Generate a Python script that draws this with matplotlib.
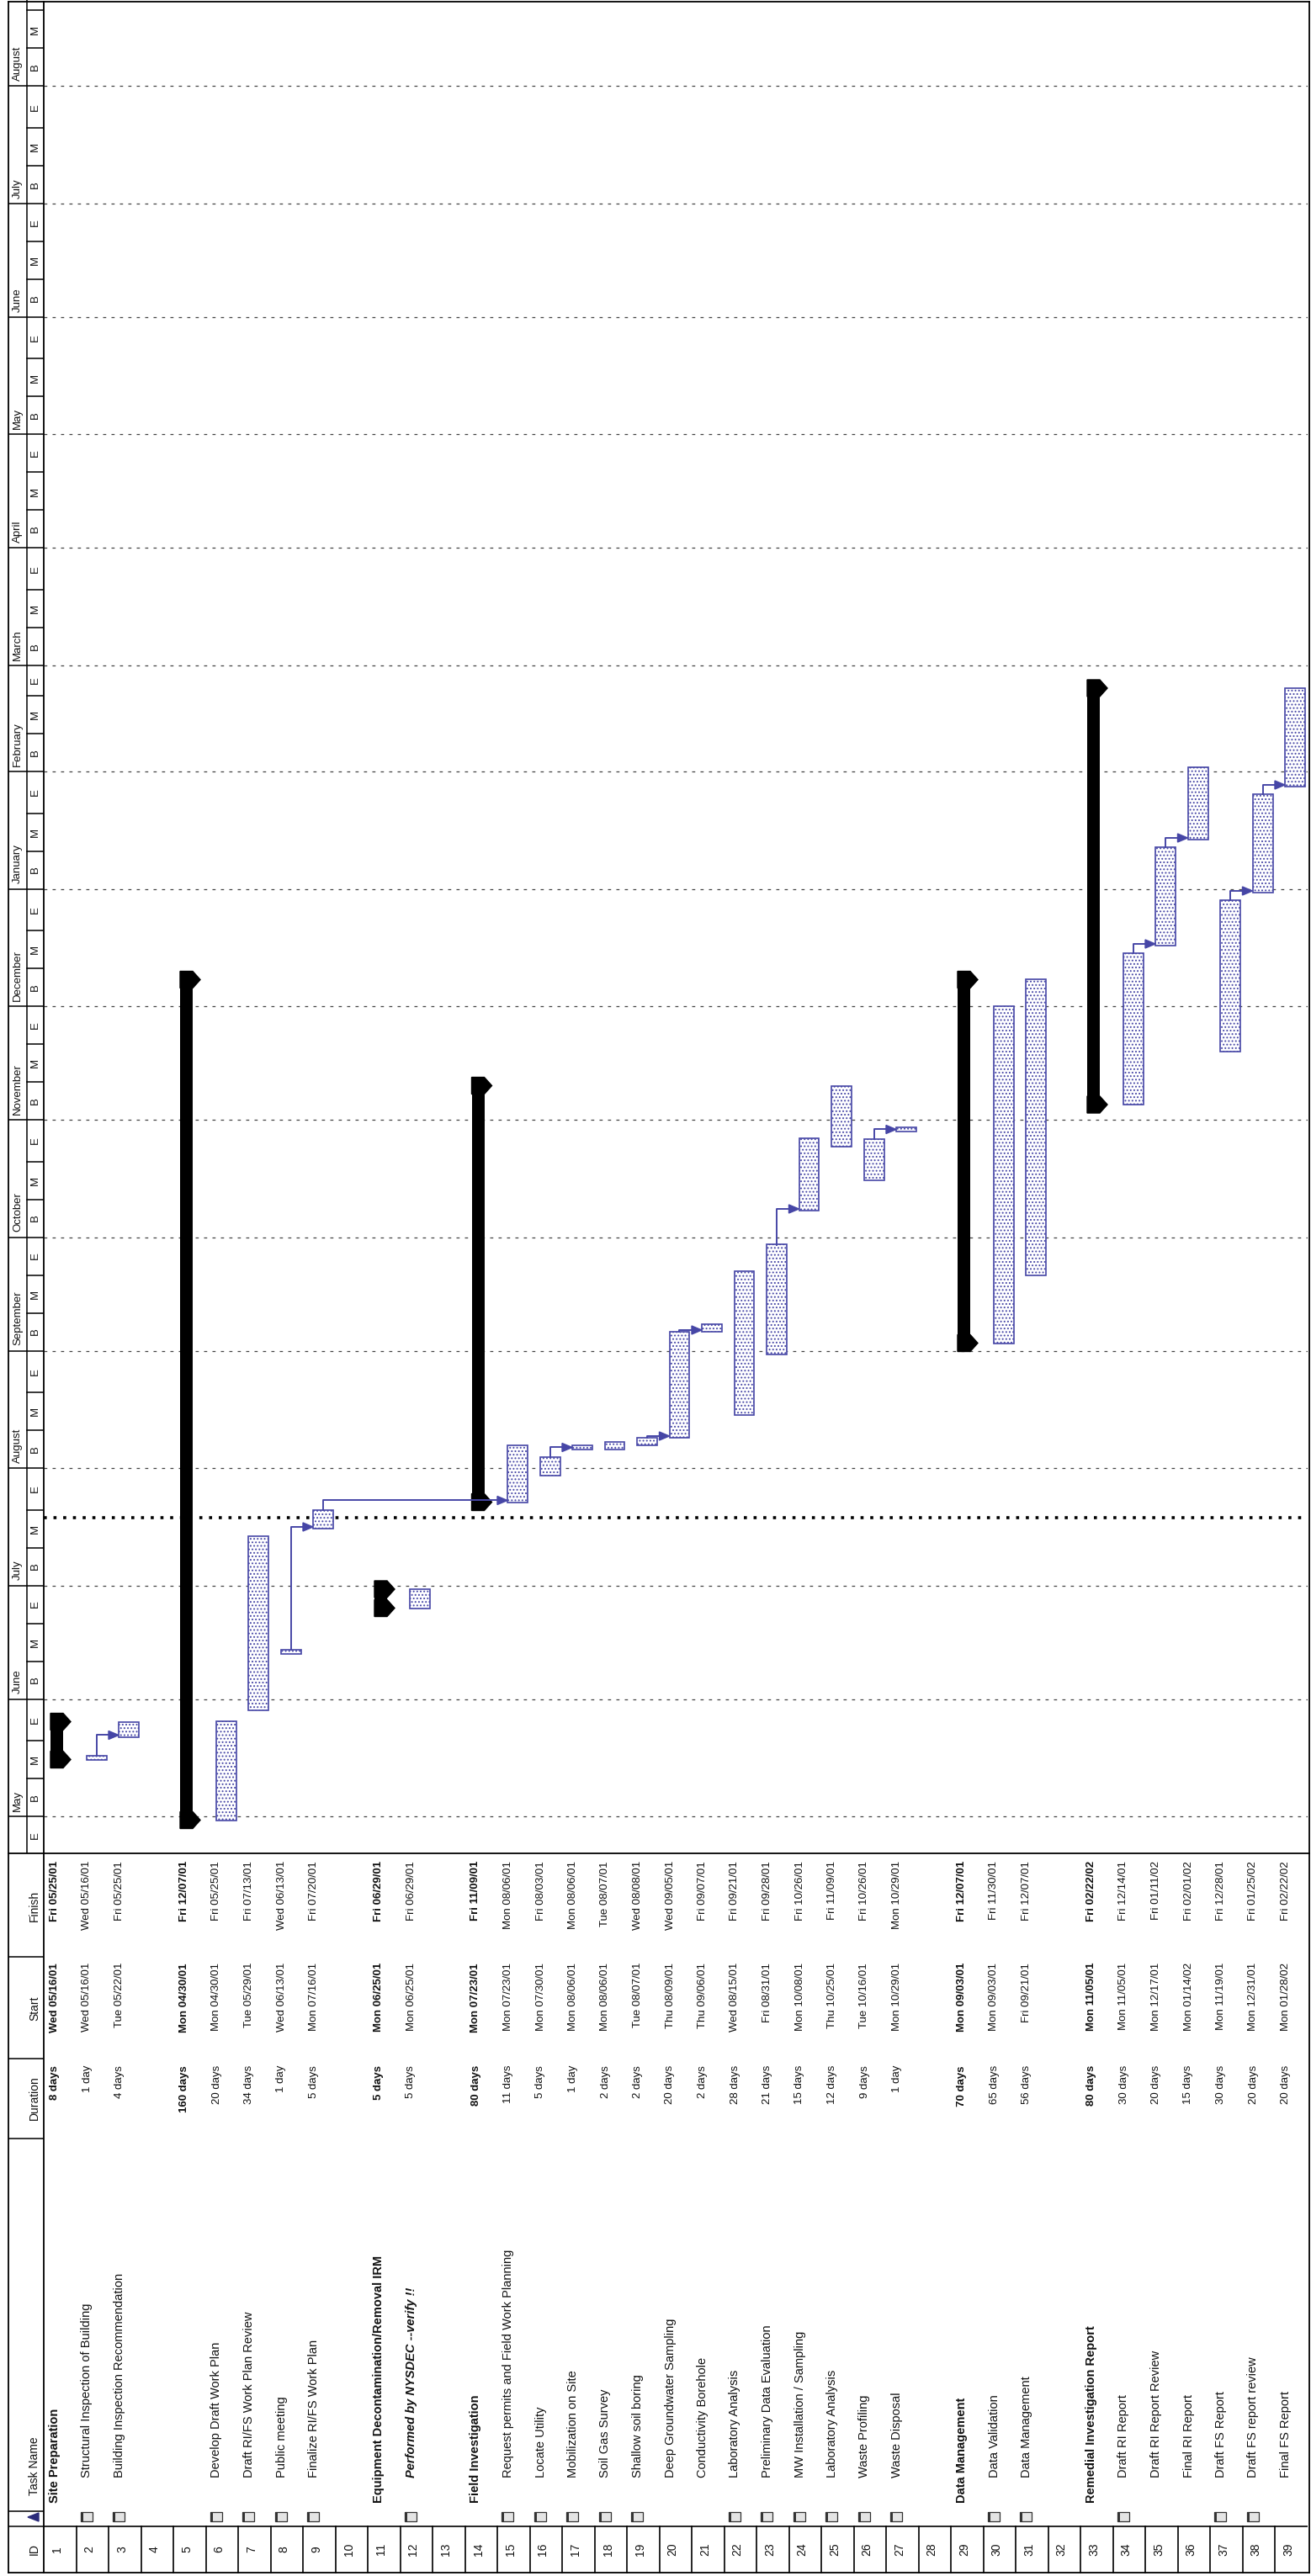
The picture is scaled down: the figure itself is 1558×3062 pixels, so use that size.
import datetime as dt
import matplotlib.pyplot as plt
import matplotlib.dates as mdates
from matplotlib.patches import Polygon, Rectangle

plt.rcParams['font.family'] = ['Liberation Sans', 'DejaVu Sans']
plt.rcParams['hatch.linewidth'] = 0.9

# ---------------- schedule data ----------------
ids = list(range(1, 40))
names = ["Site Preparation", "Structural Inspection of Building", "Building Inspection Recommendation",
         "", "", "Develop Draft Work Plan", "Draft RI/FS Work Plan Review", "Public meeting",
         "Finalize RI/FS Work Plan", "", "Equipment Decontamination/Removal IRM",
         "Performed by NYSDEC --verify !!", "", "Field Investigation",
         "Request permits and Field Work Planning", "Locate Utility", "Mobilization on Site",
         "Soil Gas Survey", "Shallow soil boring", "Deep Groundwater Sampling", "Conductivity Borehole",
         "Laboratory Analysis", "Preliminary Data Evaluation", "MW Installation / Sampling",
         "Laboratory Analysis", "Waste Profiling", "Waste Disposal", "", "Data Management",
         "Data Validation", "Data Management", "", "Remedial Investigation Report", "Draft RI Report",
         "Draft RI Report Review", "Final RI Report", "Draft FS Report", "Draft FS report review",
         "Final FS Report"]
durations = ["8 days", "1 day", "4 days", "", "160 days", "20 days", "34 days", "1 day", "5 days", "",
             "5 days", "5 days", "", "80 days", "11 days", "5 days", "1 day", "2 days", "2 days",
             "20 days", "2 days", "28 days", "21 days", "15 days", "12 days", "9 days", "1 day", "",
             "70 days", "65 days", "56 days", "", "80 days", "30 days", "20 days", "15 days", "30 days",
             "20 days", "20 days"]
starts = ["Wed 05/16/01", "Wed 05/16/01", "Tue 05/22/01", "", "Mon 04/30/01", "Mon 04/30/01",
          "Tue 05/29/01", "Wed 06/13/01", "Mon 07/16/01", "", "Mon 06/25/01", "Mon 06/25/01", "",
          "Mon 07/23/01", "Mon 07/23/01", "Mon 07/30/01", "Mon 08/06/01", "Mon 08/06/01",
          "Tue 08/07/01", "Thu 08/09/01", "Thu 09/06/01", "Wed 08/15/01", "Fri 08/31/01",
          "Mon 10/08/01", "Thu 10/25/01", "Tue 10/16/01", "Mon 10/29/01", "", "Mon 09/03/01",
          "Mon 09/03/01", "Fri 09/21/01", "", "Mon 11/05/01", "Mon 11/05/01", "Mon 12/17/01",
          "Mon 01/14/02", "Mon 11/19/01", "Mon 12/31/01", "Mon 01/28/02"]
finishes = ["Fri 05/25/01", "Wed 05/16/01", "Fri 05/25/01", "", "Fri 12/07/01", "Fri 05/25/01",
            "Fri 07/13/01", "Wed 06/13/01", "Fri 07/20/01", "", "Fri 06/29/01", "Fri 06/29/01", "",
            "Fri 11/09/01", "Mon 08/06/01", "Fri 08/03/01", "Mon 08/06/01", "Tue 08/07/01",
            "Wed 08/08/01", "Wed 09/05/01", "Fri 09/07/01", "Fri 09/21/01", "Fri 09/28/01",
            "Fri 10/26/01", "Fri 11/09/01", "Fri 10/26/01", "Mon 10/29/01", "", "Fri 12/07/01",
            "Fri 11/30/01", "Fri 12/07/01", "", "Fri 02/22/02", "Fri 12/14/01", "Fri 01/11/02",
            "Fri 02/01/02", "Fri 12/28/01", "Fri 01/25/02", "Fri 02/22/02"]
summary_rows = [1, 5, 11, 14, 29, 33]
italic_rows = [12]
note_rows = [2, 3, 6, 7, 8, 9, 12, 15, 16, 17, 18, 19, 22, 23, 24, 25, 26, 27, 30, 31, 34, 37, 38]
links = [(2, 3), (8, 9), (9, 15), (16, 17), (19, 20), (20, 21), (23, 24), (26, 27),
         (34, 35), (35, 36), (37, 38), (38, 39)]
status_date = "Thu 07/19/01"
month_names = ["January", "February", "March", "April", "May", "June", "July", "August",
               "September", "October", "November", "December"]
thirds = ["B", "M", "E"]

# ---------------- layout ----------------
W, H = 1558, 3062
ROW = 38.5          # px per task row
X0 = 52             # first row begins here
CHART_BOT = 2203    # timeline / table boundary
MAY1_PX = 2159      # where 1 May 2001 sits
PX_PER_DAY = 4.5
BLUE = '#4646a6'
INK = '#111111'

fig = plt.figure(figsize=(W / 100, H / 100), dpi=100)


def axes_px(x0, y0, x1, y1):
    a = fig.add_axes([x0 / W, 1 - y1 / H, (x1 - x0) / W, (y1 - y0) / H])
    a.axis('off')
    return a


def parse(s):
    return mdates.date2num(dt.datetime.strptime(s.split()[1], '%m/%d/%y'))


def p2d(px):
    return px / PX_PER_DAY


n = len(ids)
x_end = X0 + n * ROW
base = mdates.date2num(dt.datetime(2001, 5, 1))
y_lo = base - (CHART_BOT - MAY1_PX) / PX_PER_DAY
y_hi = base + MAY1_PX / PX_PER_DAY

# ---------------- gantt ----------------
ax = axes_px(X0, 0, x_end, CHART_BOT)
ax.set_xlim(0, n)
ax.set_ylim(y_lo, y_hi)

month_starts = [dt.datetime(2001 + (m - 1) // 12, (m - 1) % 12 + 1, 1) for m in range(4, 22)]
for ms in month_starts:
    ax.axhline(mdates.date2num(ms), color='#444444', lw=0.9, ls=(0, (3, 5)), zorder=1)
ax.axhline(parse(status_date), color='black', lw=2.6, ls=(0, (1, 2.2)), zorder=2)

for i, s, f in zip(ids, starts, finishes):
    if not s:
        continue
    y0, y1 = parse(s), parse(f) + 1
    r = i - 1
    if i in summary_rows:
        ax.bar(r + 8 / ROW, y1 - y0, bottom=y0, width=15 / ROW, align='edge',
               color='black', zorder=4)
        h = p2d(10)
        for yy in (y0, y1):
            ax.add_patch(Polygon([(r + 8 / ROW, yy - h), (r + 23 / ROW, yy - h), (r + 32 / ROW, yy),
                                  (r + 23 / ROW, yy + h), (r + 8 / ROW, yy + h)],
                                 closed=True, color='black', zorder=4))
    else:
        ax.bar(r + 12 / ROW, y1 - y0, bottom=y0, width=24 / ROW, align='edge',
               facecolor='white', edgecolor=BLUE, hatch='....', lw=1.2, zorder=3)

for a, b in links:
    ya = parse(finishes[a - 1]) + 1
    yb = parse(starts[b - 1]) + p2d(2)
    xa = a - 1 + 24 / ROW
    xb = b - 1 + 12 / ROW
    ax.plot([xa, xa, xb - 8 / ROW], [ya, yb, yb], color=BLUE, lw=1.4, zorder=5)
    ax.add_patch(Polygon([(xb, yb), (xb - 12 / ROW, yb - p2d(5)), (xb - 12 / ROW, yb + p2d(5))],
                         closed=True, color=BLUE, zorder=5))

# ---------------- timescale header ----------------
axh = axes_px(10, 0, X0, CHART_BOT)
axh.set_xlim(10, X0)
axh.set_ylim(y_lo, y_hi)
for k, ms in enumerate(month_starts[:-1]):
    y = mdates.date2num(ms)
    y_next = mdates.date2num(month_starts[k + 1])
    if y_lo < y < y_hi:
        axh.plot([10, X0], [y, y], color='black', lw=1.1)
    if y_lo < y and y + p2d(60) < y_hi:
        axh.text(21, y + p2d(6), month_names[ms.month - 1], rotation=90, rotation_mode='anchor',
                 ha='left', va='center', fontsize=9.5, color=INK, clip_on=True)
    edges = [y, y + 10, y + 20, y_next]
    for j, lab in enumerate(thirds):
        if j > 0 and y_lo < edges[j] < y_hi:
            axh.plot([32, X0], [edges[j], edges[j]], color='black', lw=1.1)
        yc = (edges[j] + edges[j + 1]) / 2
        if y_lo + p2d(8) < yc < y_hi - p2d(8):
            axh.text(42, yc, lab, rotation=90, rotation_mode='anchor',
                     ha='center', va='center', fontsize=9.5, color=INK, clip_on=True)
axh.plot([32, 32], [y_lo, y_hi], color='black', lw=1.1)

# ---------------- table ----------------
axt = axes_px(X0, CHART_BOT, x_end, H)
axt.set_xlim(0, n)
axt.set_ylim(H, CHART_BOT)
for i in ids:
    r = i - 1
    xc = r + 13 / ROW
    w = 'bold' if i in summary_rows else 'normal'
    nm = names[r]
    if nm:
        top_level = i in summary_rows
        axt.text(xc, 2975 if top_level else 2945, nm, rotation=90, rotation_mode='anchor',
                 ha='left', va='center', fontsize=10.5, color=INK,
                 weight='bold' if (top_level or i in italic_rows) else 'normal',
                 style='italic' if i in italic_rows else 'normal')
    for y, txt in ((2455, durations[r]), (2333, starts[r]), (2212, finishes[r])):
        if txt:
            axt.text(xc, y, txt, rotation=90, rotation_mode='anchor', ha='right', va='center',
                     fontsize=9.5, color=INK, weight=w)
    axt.text(r + 16 / ROW, 3030, str(i), rotation=90, rotation_mode='anchor', ha='center',
             va='center', fontsize=10, color=INK)
    if i in note_rows:
        axt.add_patch(Rectangle((r + 5 / ROW, 2986), 14 / ROW, 11, facecolor='#e4e4e4',
                                edgecolor='#333333', lw=0.9))
        axt.add_patch(Rectangle((r + 5 / ROW, 2986), 3 / ROW, 11, facecolor='#333333', lw=0))
    if i > 1:
        axt.plot([r, r], [3003, 3058], color='black', lw=1.2)
axt.plot([0, n], [3003, 3003], color='black', lw=1.2)

# table column headers
axth = axes_px(10, CHART_BOT, X0, H)
axth.set_xlim(10, X0)
axth.set_ylim(H, CHART_BOT)
for y in (2326, 2447, 2542, 2985, 3003):
    axth.plot([10, X0], [y, y], color='black', lw=1.1)
for y, txt, ha in ((2265, "Finish", 'center'), (2387, "Start", 'center'),
                   (2494, "Duration", 'center'), (2966, "Task Name", 'left'), (3030, "ID", 'center')):
    axth.text(41, y, txt, rotation=90, rotation_mode='anchor', ha=ha, va='center',
              fontsize=10, color=INK)
axth.add_patch(Polygon([(33, 2992), (46, 2987), (46, 2997)], closed=True, color='#2a2a7a'))

# ---------------- outer frame ----------------
axf = axes_px(0, 0, W, H)
axf.set_xlim(0, W)
axf.set_ylim(H, 0)
for xs, ys in (([10, 10], [2, 3058]), ([X0, X0], [2, 3058]), ([1556, 1556], [2, 3058]),
               ([10, 1556], [2, 2]), ([10, 1556], [CHART_BOT, CHART_BOT]), ([10, 1556], [3058, 3058])):
    axf.plot(xs, ys, color='black', lw=1.3)

fig.savefig('out.png', dpi=100)
